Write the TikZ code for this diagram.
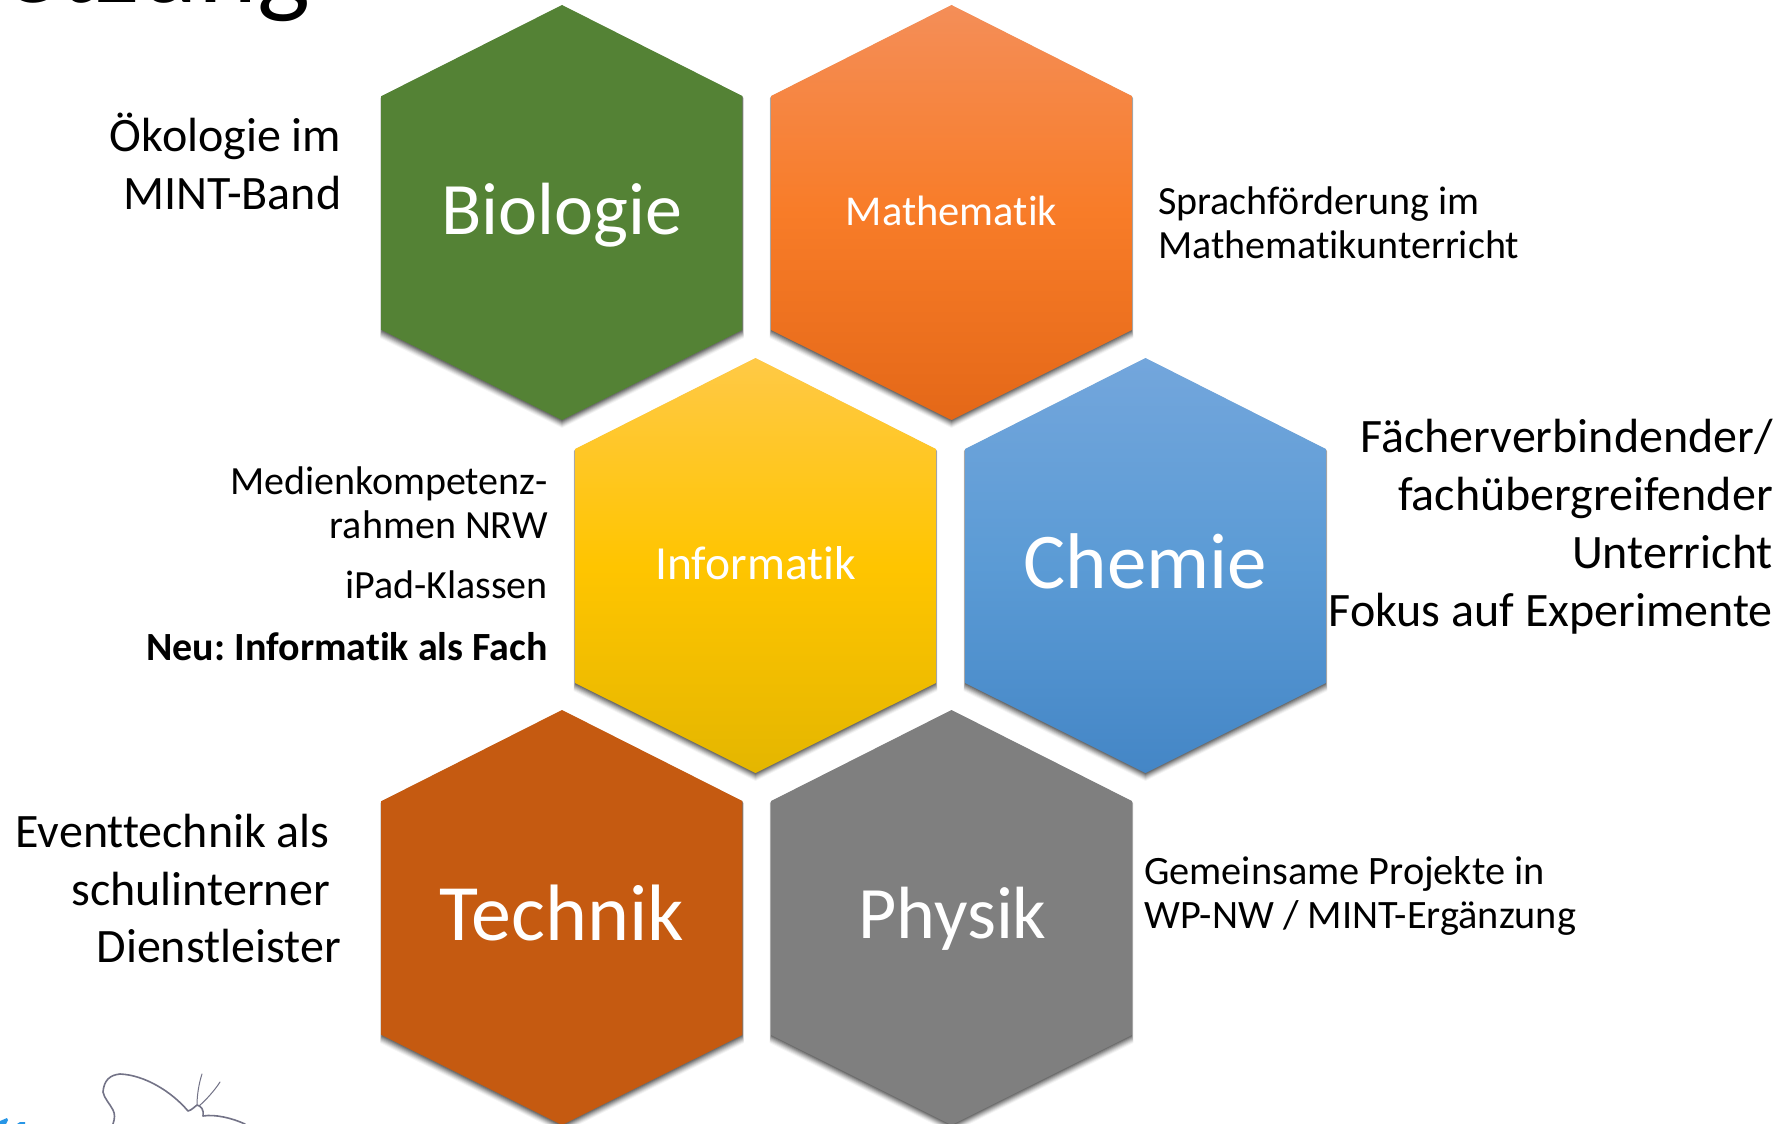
\documentclass[tikz,border=0pt]{standalone}
\usepackage{fontspec}
\setmainfont[Ligatures=NoCommon]{Carlito}
\definecolor{bioC}{RGB}{84,130,53}
\definecolor{mathT}{RGB}{244,142,88}
\definecolor{mathM}{RGB}{248,124,40}
\definecolor{mathB}{RGB}{228,104,24}
\definecolor{infT}{RGB}{255,201,70}
\definecolor{infM}{RGB}{255,197,0}
\definecolor{infB}{RGB}{228,182,0}
\definecolor{cheT}{RGB}{115,166,220}
\definecolor{cheM}{RGB}{91,155,213}
\definecolor{cheB}{RGB}{68,134,198}
\definecolor{tecC}{RGB}{197,90,17}
\definecolor{phyC}{RGB}{127,127,127}
\definecolor{flyC}{RGB}{115,115,135}
\definecolor{blobC}{RGB}{40,150,230}
\tikzset{
  x=1pt,y=-1pt,
  hexlabel/.style={text=white,anchor=center,inner sep=0pt},
  lbl/.style={text=black,inner sep=0pt,align=right,anchor=east},
  lbll/.style={text=black,inner sep=0pt,align=left,anchor=west},
  shadeBio/.style={top color=bioC,bottom color=bioC},
  shadeMath/.style={top color=mathT,bottom color=mathB,middle color=mathM},
  shadeInf/.style={top color=infT,bottom color=infB,middle color=infM},
  shadeChe/.style={top color=cheT,bottom color=cheB,middle color=cheM},
  shadeTec/.style={top color=tecC,bottom color=tecC},
  shadePhy/.style={top color=phyC,bottom color=phyC},
  flyline/.style={draw=flyC,line width=1.6pt,line cap=round,line join=round},
}
\newcommand{\hexpath}[2]{(#1,#2-207.5) -- (#1+180.3,#2-116.5) -- (#1+180.3,#2+117.5) -- (#1,#2+207.5) -- (#1-180.3,#2+117.5) -- (#1-180.3,#2-116.5) -- cycle}
\newcommand{\hexshape}[3]{%
  \foreach \d/\o in {8/0.04,7/0.06,6/0.07,5/0.09,4/0.10,3/0.12,2/0.14,1/0.16}{
    \fill[black,opacity=\o] (#1,#2-207.5+\d*0.3) -- (#1+180.3+\d*0.2,#2-116.5+\d*0.3) -- (#1+180.3+\d*0.2,#2+117.5+\d) -- (#1,#2+207.5+\d) -- (#1-180.3-\d*0.2,#2+117.5+\d) -- (#1-180.3-\d*0.2,#2-116.5+\d*0.3) -- cycle;
  }
  \shade[#3] \hexpath{#1}{#2};
}
\newcommand{\fs}[2]{\fontsize{#1}{#2}\selectfont}
\begin{document}
\frenchspacing
\begin{tikzpicture}
\useasboundingbox (0,0) rectangle (1786,1124);
\clip (0,0) rectangle (1786,1124);
\fill[white] (0,0) rectangle (1786,1124);
% title cropped at the top
\node[inner sep=0pt,anchor=base east,font=\fs{112}{112}] (title) at (310,3) {Vernetzung};
% butterfly and logo remains
\draw[flyline] (113,1124) .. controls (115,1118) and (115,1114) .. (113,1110) .. controls (110,1104) and (104,1098) .. (103,1092) .. controls (104,1080) and (110,1075) .. (120,1074) .. controls (145,1075) and (172,1092) .. (188,1111) .. controls (192,1110) and (194,1107) .. (197,1105) .. controls (201,1106) and (204,1109) .. (203,1116) .. controls (215,1114) and (232,1118) .. (245,1124);
\draw[flyline,line width=1pt] (197,1105) .. controls (197,1095) and (199,1083) .. (202,1074);
\draw[flyline,line width=1pt] (199,1106) .. controls (206,1100) and (215,1090) .. (220,1082);
\fill[blobC] (0,1124) -- (0,1121) -- (7,1118) -- (8,1120) -- (6,1124) -- cycle;
\fill[blobC] (17,1124) -- (20,1122) -- (25,1122) -- (25,1124) -- cycle;
% hexagons
\hexshape{562}{212.5}{shadeBio}
\hexshape{951.5}{212.5}{shadeMath}
\hexshape{755.5}{565.5}{shadeInf}
\hexshape{1145.5}{565.5}{shadeChe}
\hexshape{562}{917.5}{shadeTec}
\hexshape{951.5}{917.5}{shadePhy}
\node[hexlabel,font=\fs{74}{74}] (bio) at (562,215) {Biologie};
\node[hexlabel,font=\fs{42.5}{42.5}] (mat) at (951.5,211) {Mathematik};
\node[hexlabel,font=\fs{47.5}{47.5}] (inf) at (755.5,563) {Informatik};
\node[hexlabel,font=\fs{79}{79}] (che) at (1145.5,561.5) {Chemie};
\node[hexlabel,font=\fs{80}{80}] (tec) at (562,912.5) {Technik};
\node[hexlabel,font=\fs{74}{74}] (phy) at (952.5,919) {Physik};
% side texts
\node[lbl,font=\fs{48}{58}] (t1) at (341.5,161) {Ökologie im\\MINT-Band};
\node[lbll,font=\fs{40}{43.5}] (t2) at (1158,223) {Sprachförderung im\\Mathematikunterricht};
\node[lbl,font=\fs{40}{43.5}] (t3a) at (548,503) {Medienkompetenz-\\rahmen NRW};
\node[lbl,font=\fs{40}{43.5}] (t3b) at (548,585) {iPad-Klassen};
\node[lbl,font=\bfseries\fs{40}{43.5}] (t3c) at (548,647) {Neu: Informatik als Fach};
\node[lbl,font=\fs{48}{58}] (t4) at (1773,527) {Fächerverbindender/\\fachübergreifender\\Unterricht\\Fokus auf Experimente};
\node[lbl,font=\fs{48}{58}] (t5a) at (330,860) {Eventtechnik als\\schulinterner};
\node[lbl,font=\fs{48}{58}] (t5b) at (341,946) {Dienstleister};
\node[lbll,font=\fs{40.3}{44.5}] (t6) at (1144,896) {Gemeinsame Projekte in\\WP-NW / MINT-Ergänzung};
\end{tikzpicture}
\end{document}
